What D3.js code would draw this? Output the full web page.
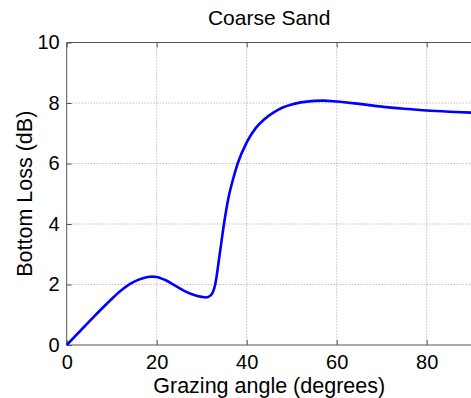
<!DOCTYPE html>
<html>
<head>
<meta charset="utf-8">
<script src="https://cdn.jsdelivr.net/npm/d3@7"></script>
<style>
  body { margin: 0; background: #fff; }
  text { font-family: "Liberation Sans", Arial, sans-serif; fill: #000; }
</style>
</head>
<body>
<svg id="chart" width="471" height="398"></svg>
<script>
// grazing angle (degrees) and bottom loss (dB)
var angles = [0, 2, 4, 6, 8, 10, 12, 14, 16, 18, 19, 20, 22, 24, 26, 28, 30, 31, 32, 33, 34, 35, 36, 37, 38, 40, 42, 44, 46, 48, 50, 52, 55, 57, 60, 65, 70, 75, 80, 85, 90];
var loss   = [0, 0.31, 0.62, 0.93, 1.23, 1.52, 1.79, 2.01, 2.16, 2.25, 2.26, 2.25, 2.14, 1.97, 1.80, 1.67, 1.59, 1.57, 1.64, 2.0, 3.0, 4.05, 4.9, 5.5, 6.0, 6.7, 7.17, 7.47, 7.69, 7.85, 7.95, 8.02, 8.07, 8.08, 8.05, 7.97, 7.88, 7.81, 7.75, 7.71, 7.68];
var xTicks = [0, 20, 40, 60, 80];
var yTicks = [0, 2, 4, 6, 8, 10];

var svg = d3.select("#chart");
// note: "top" is taken by window.top, so use plot* names
var plotL = 66.7, plotR = 471.7, plotT = 42.5, plotB = 345;

var x = d3.scaleLinear().domain([0, 90]).range([plotL, plotR]);
var y = d3.scaleLinear().domain([0, 10]).range([plotB, plotT]);

// dotted grid
svg.append("g")
  .selectAll("line")
  .data(xTicks.slice(1))
  .enter().append("line")
  .attr("x1", function(d) { return x(d); })
  .attr("x2", function(d) { return x(d); })
  .attr("y1", plotT).attr("y2", plotB)
  .style("stroke", "#a0a0a0").style("stroke-width", 1)
  .style("stroke-dasharray", "1,2");

svg.append("g")
  .selectAll("line")
  .data(yTicks.slice(1, -1))
  .enter().append("line")
  .attr("y1", function(d) { return y(d); })
  .attr("y2", function(d) { return y(d); })
  .attr("x1", plotL).attr("x2", plotR)
  .style("stroke", "#a0a0a0").style("stroke-width", 1)
  .style("stroke-dasharray", "1,2");

// axes (ticks pointing inward, like matlab)
var xAxis = svg.append("g")
  .attr("transform", "translate(0," + plotB + ")")
  .call(d3.axisBottom(x).tickValues(xTicks).tickSize(-5).tickPadding(10));
var yAxis = svg.append("g")
  .attr("transform", "translate(" + plotL + ",0)")
  .call(d3.axisLeft(y).tickValues(yTicks).tickSize(-5).tickPadding(7));
var topAxis = svg.append("g")
  .attr("transform", "translate(0," + plotT + ")")
  .call(d3.axisTop(x).tickValues(xTicks).tickSize(-5).tickFormat(""));

[xAxis, yAxis, topAxis].forEach(function(g) {
  g.selectAll("line").style("stroke", "#555").style("stroke-width", 1);
  g.select(".domain").remove();
  g.selectAll("text")
    .style("font-family", "'Liberation Sans', Arial, sans-serif")
    .style("font-size", "20px").style("fill", "#000");
});
// border lines
svg.append("line").attr("x1", plotL).attr("x2", plotR).attr("y1", plotB).attr("y2", plotB)
  .style("stroke", "#555");
svg.append("line").attr("x1", plotL).attr("x2", plotL).attr("y1", plotT).attr("y2", plotB)
  .style("stroke", "#555");
svg.append("line").attr("x1", plotL).attr("x2", plotR).attr("y1", plotT).attr("y2", plotT)
  .style("stroke", "#555");

// the curve
var line = d3.line()
  .x(function(d, i) { return x(angles[i]); })
  .y(function(d) { return y(d); })
  .curve(d3.curveMonotoneX);

svg.append("path")
  .datum(loss)
  .attr("d", line)
  .style("fill", "none")
  .style("stroke", "#0000ff")
  .style("stroke-width", 2.6)
  .style("stroke-linejoin", "round");

// labels
svg.append("text")
  .attr("x", (plotL + plotR) / 2).attr("y", 25)
  .attr("text-anchor", "middle")
  .style("font-size", "21px")
  .text("Coarse Sand");

svg.append("text")
  .attr("x", (plotL + plotR) / 2).attr("y", 393)
  .attr("text-anchor", "middle")
  .style("font-size", "21.5px")
  .text("Grazing angle (degrees)");

svg.append("text")
  .attr("transform", "translate(32," + ((plotT + plotB) / 2) + ") rotate(-90)")
  .attr("text-anchor", "middle")
  .style("font-size", "21.5px")
  .text("Bottom Loss (dB)");
</script>
</body>
</html>
